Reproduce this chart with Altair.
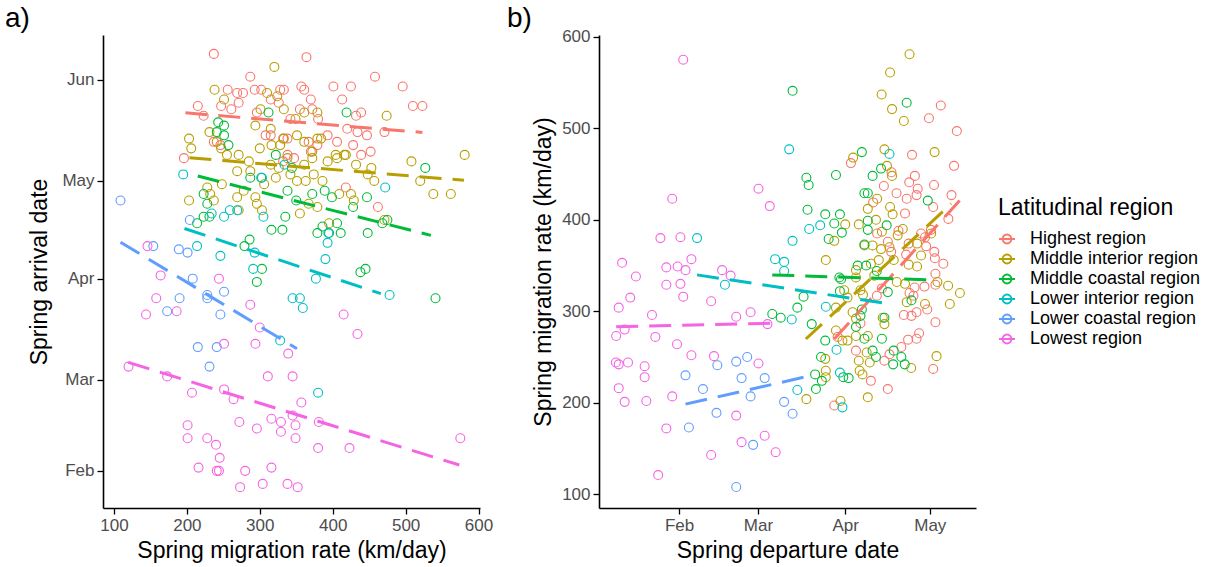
import altair as alt
import pandas as pd

REGIONS = ["Highest region", "Middle interior region", "Middle coastal region",
           "Lower interior region", "Lower coastal region", "Lowest region"]
COLORS = ["#F8766D", "#B79F00", "#00BA38", "#00BFC4", "#619CFF", "#F564E3"]

MONTH_DAYS = [32, 60, 91, 121, 152]
MONTH_NAMES = ["Feb", "Mar", "Apr", "May", "Jun"]
RATE_TICKS_A = [100, 200, 300, 400, 500, 600]
RATE_TICKS_B = [100, 200, 300, 400, 500, 600]

# ---- panel a: (migration rate km/day, arrival day-of-year)
A_HIGHEST = [(237,160),(364,159),(287,153),(256,149),(269,148),(277,148),(293,149),(302,149),(328,149),(333,149),
             (357,150),(361,149),(370,146),(401,150),(425,150),(458,153),(496,150),(510,144),(523,144),(413,146),
             (215,144),(223,141),(247,144),(261,143),(271,145),(296,142),(315,146),(326,145),(355,143),(372,143),
             (380,140),(432,141),(439,142),(420,137),(434,136),(447,135),(471,136),(308,135),(315,135),(332,134),
             (338,134),(367,133),(379,132),(393,135),(406,133),(428,132),(439,129),(452,130),(237,133),(246,132),
             (196,128),(338,129),(347,128),(370,130),(418,119),(462,113),(342,140),(332,127)]
A_MID_INT = [(320,156),(238,149),(251,146),(474,141),(203,134),(206,131),(231,136),(241,133),(247,131),(255,129),
             (271,129),(285,127),(300,131),(316,132),(328,132),(351,135),(361,133),(379,134),(393,127),(406,128),
             (418,129),(432,126),(453,125),(508,127),(581,129),(520,121),(538,117),(562,117),(457,121),(471,109),
             (395,108),(355,111),(306,120),(294,116),(278,118),(269,116),(271,112),(248,120),(228,119),(203,115),
             (232,117),(237,115),(296,114),(303,112),(322,122),(342,123),(351,121),(363,121),(374,123),(386,121),
             (409,117),(425,117),(429,115),(367,114),(379,113),(315,126),(326,125),(361,126),(372,128),(338,128),
             (269,124),(287,124),(349,140),(333,143),(324,147),(310,148),(301,143),(294,138),(315,137),(333,134),
             (361,142),(379,142),(384,134),(372,130),(404,129),(416,129),(448,123)]
A_MID_COAST = [(419,142),(243,139),(251,138),(241,136),(251,135),(257,132),(312,142),(322,129),(527,125),(287,122),
               (302,122),(338,118),(350,115),(372,117),(389,118),(399,116),(428,113),(447,116),(223,117),(228,114),
               (223,110),(231,110),(214,108),(335,110),(316,106),(331,106),(379,105),(386,107),(395,105),(406,108),
               (411,105),(448,105),(468,108),(475,109),(279,101),(286,103),(438,93),(445,94),(296,90),(303,94),
               (541,85),(344,125)]
A_LOW_INT = [(195,123),(472,119),(251,110),(259,112),(269,112),(234,111),(305,110),(214,101),(246,98),(293,99),
             (390,97),(393,102),(394,105),(291,94),(377,91),(334,126),(303,122),(478,86),(345,85),(355,85),
             (359,82),(328,72),(380,56)]
A_LOW_COAST = [(109,115),(154,101),(189,100),(201,99),(204,109),(208,91),(228,86),(228,85),(251,87),(190,85),
               (173,81),(246,80),(215,70),(241,70),(231,64)]
A_LOWEST = [(146,101),(164,92),(244,91),(158,85),(186,81),(144,80),(287,83),(300,76),(251,71),(294,71),
            (339,68),(415,80),(434,74),(120,64),(173,61),(207,56),(251,57),(264,54),(311,61),(345,61),
            (357,53),(345,49),(316,48),(329,47),(349,46),(381,47),(272,47),(296,45),(329,44),(201,46),
            (201,42),(228,42),(240,40),(245,36),(349,42),(380,39),(423,39),(575,42),(216,33),(241,32),
            (244,32),(280,32),(316,33),(273,27),(304,28),(338,28),(352,27)]

# fitted (dashed) trend segments, panel a: (rate1, day1, rate2, day2)
A_FITS = [(198,141.9,523,135.9),(203.5,128.1,580,121.2),(215,122.5,534.6,104.3),
          (196.7,106.4,466,86.4),(109,102.2,351,69.5),(119.7,65.3,573.6,33.8)]

# ---- panel b: (departure day-of-year, migration rate km/day)
B_HIGHEST = [(93,462),(114.7,471),(120.7,511),(124.9,525),(130.6,497),(129.6,459),(122.5,438),(115.7,448),(113.7,441),
             (116.7,434),(116.3,427),(112.8,423),(112.2,407),(109.2,429),(107.4,452),(104.7,437),(100.9,419),(122.2,414),
             (128.7,427),(127.6,401),(121.4,389),(119.3,381),(119.7,371),(122.6,365),(122.8,358),(106.1,376),(107.3,365),
             (112.6,362),(102.3,385),(109.9,388),(113.5,374),(117.9,385),(125.8,352),(123,341),(115.6,326),(119.1,327),
             (123,329),(113.8,320),(115.2,317),(111.8,296),(114.5,295),(116.3,299),(120.1,302),(123,288),(117.2,276),
             (116.3,270),(113.3,269),(110.9,261),(106.7,253),(104.9,246),(106.1,215),(122.2,237),(87.1,197),(88.3,272),
             (94.8,257),(100.1,224),(102.2,317),(104,325),(96.4,287)]
B_MID_INT = [(113.8,581),(106.9,561),(103.9,537),(107.6,521),(111.8,508),(104.9,477),(122.7,474),(93.8,468),(105.8,459),
             (107.6,448),(102.3,423),(106.9,414),(107.8,406),(99,412),(95.8,395),(91,395),(101.9,400),(104,387),
             (109.6,383),(111.4,390),(121.5,385),(116.5,374),(117.9,361),(113.5,351),(116.5,349),(97.8,372),(100.7,372),
             (103.7,368),(106.7,370),(102.9,356),(100.1,352),(108.2,356),(84.1,356),(87.1,377),(94.8,345),(101.3,339),
             (109.3,332),(94.8,337),(90.6,323),(91.8,315),(96.4,323),(97.3,318),(93.6,299),(94.8,292),(87.7,304),
             (87.7,279),(90,268),(91.8,268),(94.8,273),(99,273),(95.8,246),(96.1,235),(97.1,231),(99.7,244),
             (99,206),(98.6,255),(112.8,310),(112.2,330),(119.3,308),(123.7,332),(127.5,328),(128.1,308),(131.7,320),
             (123.4,251),(114.4,238),(83.9,248),(84.1,235),(84.1,228),(77.2,204),(89.3,202),(104.3,293),(104.9,286)]
B_MID_COAST = [(72.3,541),(77.2,446),(78,438),(87.7,449),(96.9,474),(100.7,448),(103.7,456),(112.8,528),(97.8,429),
               (99,429),(77.6,411),(83.9,406),(89.1,406),(87.1,396),(89.8,386),(85.1,379),(99,399),(99,389),
               (105.7,394),(120.3,421),(95.4,350),(98.4,350),(88.9,337),(102.2,344),(97.8,373),(65.1,297),(68.1,293),
               (74,304),(76.2,316),(79.1,286),(83.9,268),(82.4,250),(80.3,231),(80.6,215),(82.7,224),(89.5,335),
               (89.1,322),(94.8,283),(97.8,270),(96.9,302),(104,270),(100.7,257),(101.9,250),(104.9,293),(106.1,321),
               (108.2,257),(108,242),(110.9,250),(112.1,242),(114.5,312),(96.4,295),(90.3,228),(92.2,227)]
B_LOW_INT = [(38.4,380),(71.1,477),(72.3,377),(78.2,390),(82.1,394),(66.1,357),(69.3,354),(69.3,344),(106.7,472),
             (48.3,329),(72,291),(84.1,305),(87.9,258),(89.1,233),(90,195),(74,214)]
B_LOW_COAST = [(34.3,230),(35.5,173),(40.5,215),(45.3,189),(45.6,241),(52.3,245),(56.2,250),(54.2,227),(57.4,207),
               (62.4,227),(58.3,154),(52.3,108),(69.3,201),(72.3,188)]
B_LOWEST = [(33.5,575),(29.6,423),(25.4,380),(32.5,381),(11.8,353),(16.7,338),(27.5,348),(31.5,349),(34.3,345),
            (36.4,357),(27.5,329),(32.5,330),(47.3,345),(50.3,339),(60.2,434),(64.2,415),(10.6,304),(14.7,315),
            (33.5,316),(43.4,311),(22.4,296),(9.7,273),(12.7,280),(23.6,272),(31.3,264),(36.4,252),(44.4,251),
            (52.3,294),(57.4,299),(63.4,286),(9.6,244),(10.6,242),(13.9,244),(19.8,240),(19.8,228),(10.6,216),
            (12.7,201),(20.4,202),(29.6,207),(60.2,243),(27.5,172),(24.6,121),(43.4,143),(52.3,186),(54.2,157),
            (62.4,164),(66.3,146)]

# fitted (dashed) trend segments, panel b: (day1, rate1, day2, rate2)
B_FITS = [(87.1,269.7,131.6,421.2),(77,269.7,128.6,417.6),(65.1,339.8,121.5,334.3),
          (38.4,339.8,106.7,308),(34.3,198.5,77,228.4),(9.7,283.2,65.7,286.9)]

# ---------------------------------------------------------------------------
FONT = "Liberation Sans"
W, H = 377, 473
RATE_DOMAIN = [85, 602]
DAY_A = [20.6, 165.8]
DAY_B = [3.6, 137.4]


def points_frame(groups, xname, yname):
    rows = []
    for region, pts in zip(REGIONS, groups):
        for x, y in pts:
            rows.append({"region": region, xname: x, yname: y})
    return pd.DataFrame(rows)


def fits_frame(fits):
    return pd.DataFrame([{"region": r, "x": f[0], "y": f[1], "x2": f[2], "y2": f[3]}
                         for r, f in zip(REGIONS, fits)])


month_expr = " : ".join(f"datum.value == {d} ? '{m}'" for d, m in zip(MONTH_DAYS, MONTH_NAMES)) + " : ''"

sym_path = "M-1,0L1,0M0.56,0A0.56,0.56,0,1,1,-0.56,0A0.56,0.56,0,1,1,0.56,0"

color = alt.Color(
    "region:N",
    scale=alt.Scale(domain=REGIONS, range=COLORS),
    sort=REGIONS,
    legend=alt.Legend(
        title="Latitudinal region", orient="none", legendX=895, legendY=162,
        titleFontSize=23, titleFont=FONT, titleFontWeight="normal", titleColor="black",
        labelFontSize=18, labelFont=FONT, labelColor="black", labelOffset=14, labelLimit=400,
        symbolType=sym_path, symbolSize=256, symbolStrokeWidth=1.8, symbolFillColor="transparent",
        rowPadding=2, titlePadding=10, padding=0,
    ),
)

fit_color = alt.Color("region:N", scale=alt.Scale(domain=REGIONS, range=COLORS), legend=None)

# ---- panel a
xa = alt.X("rate:Q", scale=alt.Scale(domain=RATE_DOMAIN, nice=False, zero=False),
           axis=alt.Axis(values=RATE_TICKS_A, title="Spring migration rate (km/day)"))
ya = alt.Y("day:Q", scale=alt.Scale(domain=DAY_A, nice=False, zero=False),
           axis=alt.Axis(values=MONTH_DAYS, labelExpr=month_expr, title="Spring arrival date",
                         titlePadding=10))

pa = alt.Chart(points_frame([A_HIGHEST, A_MID_INT, A_MID_COAST, A_LOW_INT, A_LOW_COAST, A_LOWEST],
                            "rate", "day")).mark_point(
    shape="circle", filled=False, size=80, strokeWidth=1.1, opacity=1).encode(x=xa, y=ya, color=color)
fa = alt.Chart(fits_frame(A_FITS)).mark_rule(strokeWidth=3, strokeDash=[22, 11]).encode(
    x=alt.X("x:Q", scale=alt.Scale(domain=RATE_DOMAIN, nice=False, zero=False)),
    x2="x2:Q",
    y=alt.Y("y:Q", scale=alt.Scale(domain=DAY_A, nice=False, zero=False)),
    y2="y2:Q",
    color=fit_color,
)
la = alt.Chart(pd.DataFrame({"t": ["a)"]})).mark_text(
    font=FONT, fontSize=28, align="left", baseline="alphabetic", color="black").encode(
    text="t:N", x=alt.value(-98), y=alt.value(-8))
panel_a = alt.layer(pa, fa, la).properties(width=W, height=H)

# ---- panel b
xb = alt.X("day:Q", scale=alt.Scale(domain=DAY_B, nice=False, zero=False),
           axis=alt.Axis(values=MONTH_DAYS, labelExpr=month_expr, title="Spring departure date"))
yb = alt.Y("rate:Q", scale=alt.Scale(domain=RATE_DOMAIN, nice=False, zero=False),
           axis=alt.Axis(values=RATE_TICKS_B, title="Spring migration rate (km/day)", titlePadding=6))

pb = alt.Chart(points_frame([B_HIGHEST, B_MID_INT, B_MID_COAST, B_LOW_INT, B_LOW_COAST, B_LOWEST],
                            "day", "rate")).mark_point(
    shape="circle", filled=False, size=80, strokeWidth=1.1, opacity=1).encode(x=xb, y=yb, color=color)
fb = alt.Chart(fits_frame(B_FITS)).mark_rule(strokeWidth=3, strokeDash=[22, 11]).encode(
    x=alt.X("x:Q", scale=alt.Scale(domain=DAY_B, nice=False, zero=False)),
    x2="x2:Q",
    y=alt.Y("y:Q", scale=alt.Scale(domain=RATE_DOMAIN, nice=False, zero=False)),
    y2="y2:Q",
    color=fit_color,
)
lb = alt.Chart(pd.DataFrame({"t": ["b)"]})).mark_text(
    font=FONT, fontSize=28, align="left", baseline="alphabetic", color="black").encode(
    text="t:N", x=alt.value(-92), y=alt.value(-8))
panel_b = alt.layer(pb, fb, lb).properties(width=W, height=H)

chart = alt.hconcat(panel_a, panel_b, spacing=14).properties(
    padding={"left": 5, "top": 5, "right": 5, "bottom": 2}
).configure_view(stroke=None).configure_axis(
    domainColor="black", domainWidth=1.6, tickColor="black", tickWidth=1.3, tickSize=6,
    labelColor="#4D4D4D", labelFontSize=17, labelFont=FONT, labelPadding=3,
    titleFont=FONT, titleFontSize=23, titleFontWeight="normal", titleColor="black",
    grid=False,
).configure_axisX(titlePadding=6)

chart.save("out.html", embed_options={"renderer": "svg", "actions": False})
